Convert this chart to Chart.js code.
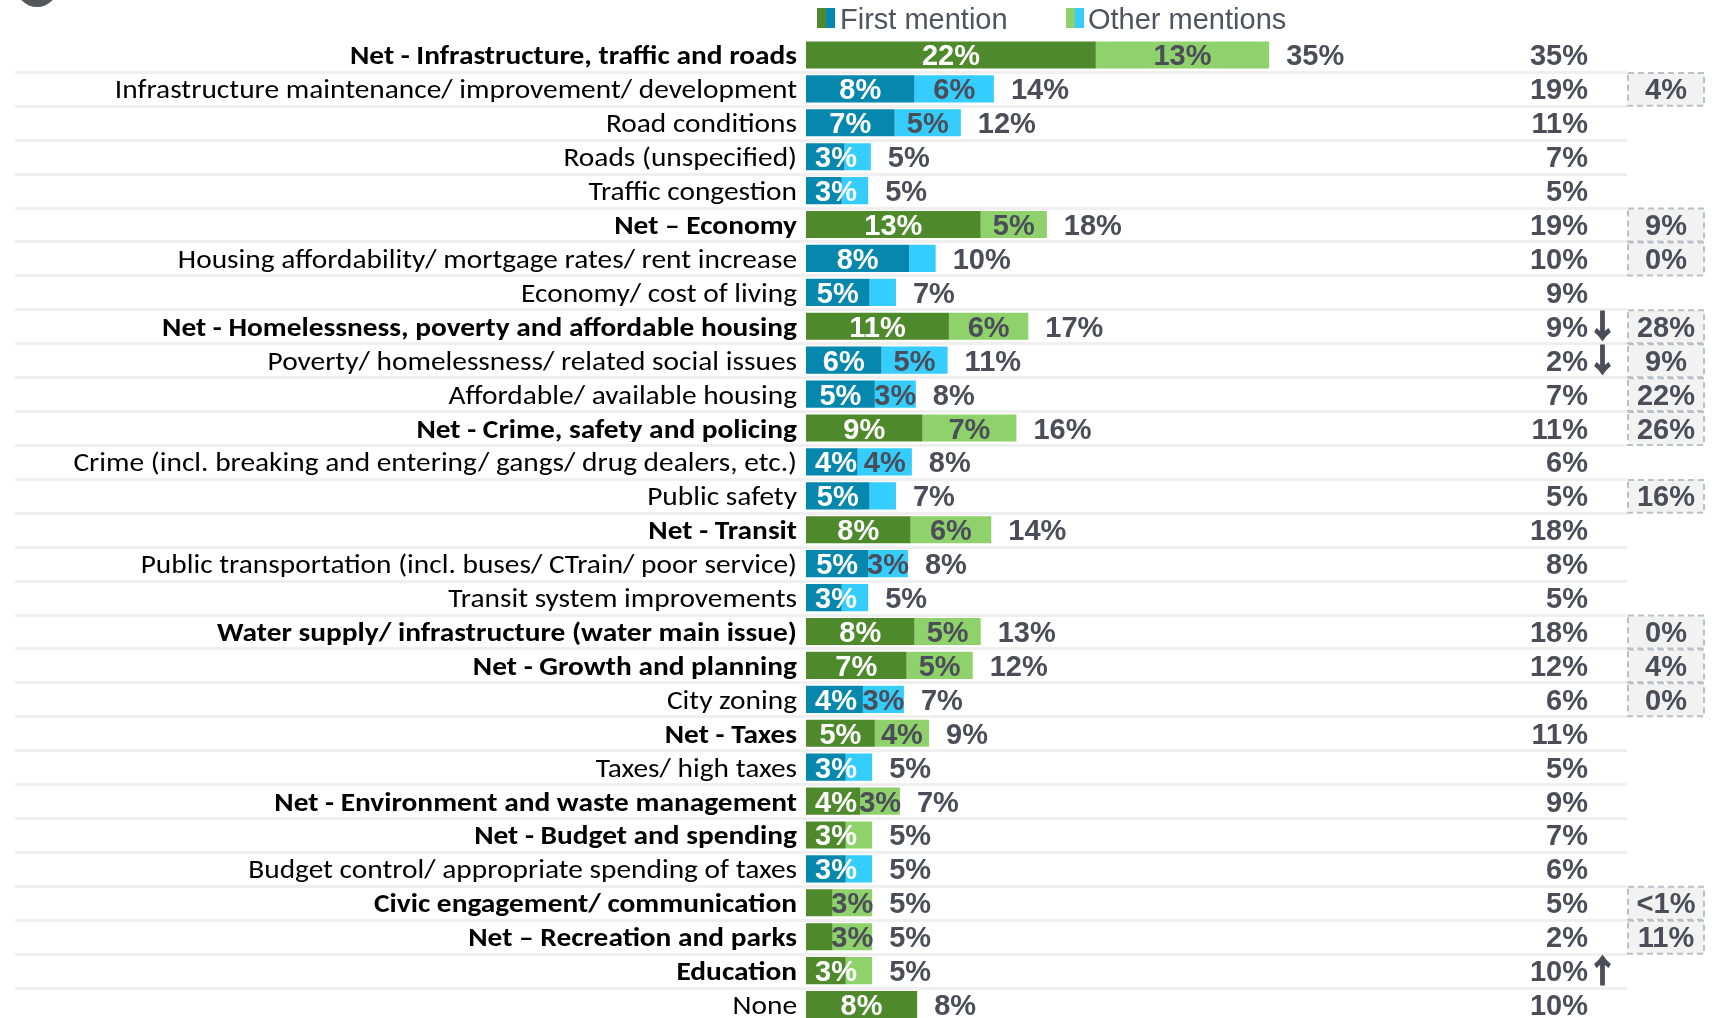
<!DOCTYPE html>
<html>
<head>
<meta charset="utf-8">
<script src="https://cdn.jsdelivr.net/npm/chart.js@4.4.1/dist/chart.umd.min.js"></script>
<style>
html,body{margin:0;padding:0;background:#fff;overflow:hidden;}
#wrap{position:relative;width:1717px;height:1024px;}
</style>
</head>
<body>
<div id="wrap"><canvas id="chart" width="1717" height="1024"></canvas></div>
<script>
// rows, top to bottom
const categories = [
  'Net - Infrastructure, traffic and roads',
  'Infrastructure maintenance/ improvement/ development',
  'Road conditions',
  'Roads (unspecified)',
  'Traffic congestion',
  'Net \u2013 Economy',
  'Housing affordability/ mortgage rates/ rent increase',
  'Economy/ cost of living',
  'Net - Homelessness, poverty and affordable housing',
  'Poverty/ homelessness/ related social issues',
  'Affordable/ available housing',
  'Net - Crime, safety and policing',
  'Crime (incl. breaking and entering/ gangs/ drug dealers, etc.)',
  'Public safety',
  'Net - Transit',
  'Public transportation (incl. buses/ CTrain/ poor service)',
  'Transit system improvements',
  'Water supply/ infrastructure (water main issue)',
  'Net - Growth and planning',
  'City zoning',
  'Net - Taxes',
  'Taxes/ high taxes',
  'Net - Environment and waste management',
  'Net - Budget and spending',
  'Budget control/ appropriate spending of taxes',
  'Civic engagement/ communication',
  'Net \u2013 Recreation and parks',
  'Education',
  'None'
];
// net = bold green, sub = regular blue, plain = regular green
const rowType = ['net','sub','sub','sub','sub','net','sub','sub','net','sub','sub','net','sub','sub','net','sub','sub',
  'net','net','sub','net','sub','net','net','sub','net','net','net','plain'];

const firstVals = [21.9,8.2,6.7,2.9,2.7,13.2,7.8,4.8,10.8,5.7,5.2,8.8,3.9,4.8,7.9,4.7,2.7,
  8.2,7.6,4.3,5.2,3.0,4.1,3.0,3.0,2.0,2.0,3.0,8.4];
const otherVals = [13.1,6.0,5.0,2.0,2.0,5.0,2.0,2.0,6.0,5.0,3.1,7.1,4.1,2.0,6.1,3.0,2.0,
  5.0,5.0,3.1,4.1,2.0,3.0,2.0,2.0,3.0,3.0,2.0,0];

const firstLbl = ['22%','8%','7%','3%','3%','13%','8%','5%','11%','6%','5%','9%','4%','5%','8%','5%','3%',
  '8%','7%','4%','5%','3%','4%','3%','3%','','','3%','8%'];
const otherLbl = ['13%','6%','5%','','','5%','','','6%','5%','3%','7%','4%','','6%','3%','',
  '5%','5%','3%','4%','','3%','','','3%','3%','',''];
const totalLbl = ['35%','14%','12%','5%','5%','18%','10%','7%','17%','11%','8%','16%','8%','7%','14%','8%','5%',
  '13%','12%','7%','9%','5%','7%','5%','5%','5%','5%','5%','8%'];

const prevVals = ['35%','19%','11%','7%','5%','19%','10%','9%','9%','2%','7%','11%','6%','5%','18%','8%','5%',
  '18%','12%','6%','11%','5%','9%','7%','6%','5%','2%','10%','10%'];
const prevTrend = ['','','','','','','','','down','down','','','','','','','',
  '','','','','','','','','','','up',''];
const boxVals = ['','4%','','','','9%','0%','','28%','9%','22%','26%','','16%','','','',
  '0%','4%','0%','','','','','','<1%','11%','',''];

const legendLabels = ['First mention','Other mentions'];

const DARK_GREEN = '#4e8a2b', LIGHT_GREEN = '#8fd16b';
const DARK_BLUE = '#0587ae', LIGHT_BLUE = '#35cdfd';
const TXT = '#4b4e58';
const VAL_FONT = 'bold 29px "Liberation Sans", Arial, sans-serif';
const CAT_FONT = '"Carlito", "Calibri", Lato, sans-serif';
const CAT_STRETCH = 1.13;

const rowDecor = {
  id: 'rowDecor',
  beforeDatasetsDraw(chart){
    const ctx = chart.ctx, y = chart.scales.y;
    const step = y.getPixelForValue(1) - y.getPixelForValue(0);
    ctx.save();
    // separators
    ctx.strokeStyle = '#efefef';
    ctx.lineWidth = 3;
    for(let i=0;i<categories.length-1;i++){
      const yy = Math.round(y.getPixelForValue(i) + step/2) + 0.5;
      ctx.beginPath(); ctx.moveTo(15, yy); ctx.lineTo(1627, yy); ctx.stroke();
    }
    // change boxes
    for(let i=0;i<boxVals.length;i++){
      if(!boxVals[i]) continue;
      const top = y.getPixelForValue(i) - step/2;
      ctx.fillStyle = '#f2f2f2';
      ctx.fillRect(1628, top+1, 76, step-1);
      ctx.setLineDash([6,4]);
      ctx.strokeStyle = '#b9c0c7';
      ctx.lineWidth = 2;
      ctx.strokeRect(1628, top+1, 76, step-1);
      ctx.setLineDash([]);
    }
    ctx.restore();
  },
  afterDatasetsDraw(chart){
    const ctx = chart.ctx, y = chart.scales.y;
    const m0 = chart.getDatasetMeta(0), m1 = chart.getDatasetMeta(1);
    ctx.save();
    for(let i=0;i<categories.length;i++){
      const cy = y.getPixelForValue(i);
      // category label (source text is wider than our fonts, so stretch it)
      ctx.save();
      ctx.font = (rowType[i]==='net' ? 'bold ' : '') + '26px ' + CAT_FONT;
      ctx.fillStyle = '#000';
      ctx.textAlign = 'right';
      ctx.textBaseline = 'alphabetic';
      ctx.translate(797, cy + 9.5);
      ctx.scale(CAT_STRETCH, 1);
      ctx.fillText(categories[i], 0, 0);
      ctx.restore();

      ctx.font = VAL_FONT;
      // first segment label
      const b0 = m0.data[i];
      if(firstLbl[i]){
        const w = ctx.measureText(firstLbl[i]).width;
        let left = (b0.base + b0.x)/2 - w/2;
        left = Math.max(left, b0.base + 9);
        ctx.textAlign = 'left';
        ctx.fillStyle = '#fff';
        ctx.fillText(firstLbl[i], left, cy + 10.5);
      }
      const b1 = m1.data[i];
      if(otherLbl[i]){
        ctx.textAlign = 'center';
        ctx.fillStyle = TXT;
        ctx.fillText(otherLbl[i], (b1.base + b1.x)/2, cy + 10.5);
      }
      // total
      const end = Math.max(b0.x, b1.x);
      ctx.textAlign = 'left';
      ctx.fillStyle = TXT;
      ctx.fillText(totalLbl[i], end + 17, cy + 10.5);
      // previous column
      ctx.textAlign = 'right';
      ctx.fillText(prevVals[i], 1588, cy + 10.5);
      if(prevTrend[i]){
        const arrow = prevTrend[i]==='down' ? '\u2193' : '\u2191';
        ctx.textAlign = 'left';
        ctx.font = 'bold 31px "Noto Sans CJK JP", "DejaVu Sans", sans-serif';
        ctx.strokeStyle = TXT;
        ctx.lineWidth = 1.6;
        ctx.fillText(arrow, 1587, cy + 11);
        ctx.strokeText(arrow, 1587, cy + 11);
        ctx.font = VAL_FONT;
      }
      if(boxVals[i]){
        ctx.textAlign = 'center';
        ctx.fillText(boxVals[i], 1666, cy + 10.5);
      }
    }
    // legend
    ctx.fillStyle = DARK_GREEN; ctx.fillRect(817, 8, 9, 20);
    ctx.fillStyle = DARK_BLUE; ctx.fillRect(826, 8, 9, 20);
    ctx.fillStyle = LIGHT_GREEN; ctx.fillRect(1066, 8, 9, 20);
    ctx.fillStyle = LIGHT_BLUE; ctx.fillRect(1075, 8, 9, 20);
    ctx.font = '29px "Liberation Sans", Arial, sans-serif';
    ctx.fillStyle = '#50535c';
    ctx.textAlign = 'left';
    ctx.fillText(legendLabels[0], 840, 29);
    ctx.fillText(legendLabels[1], 1088, 29);
    // badge cut off at the top
    ctx.fillStyle = '#55575c';
    ctx.beginPath(); ctx.arc(37, -14, 21, 0, Math.PI*2); ctx.fill();
    ctx.restore();
  }
};

const ctx = document.getElementById('chart').getContext('2d');
new Chart(ctx, {
  type: 'bar',
  data: {
    labels: categories,
    datasets: [
      {label: legendLabels[0], data: firstVals,
       backgroundColor: c => rowType[c.dataIndex]==='sub' ? DARK_BLUE : DARK_GREEN,
       barPercentage: 0.8, categoryPercentage: 1},
      {label: legendLabels[1], data: otherVals,
       backgroundColor: c => rowType[c.dataIndex]==='sub' ? LIGHT_BLUE : LIGHT_GREEN,
       barPercentage: 0.8, categoryPercentage: 1}
    ]
  },
  options: {
    indexAxis: 'y',
    responsive: false,
    animation: false,
    layout: {padding: {left: 806, right: 117, top: 38, bottom: 2.5}},
    plugins: {legend: {display: false}, tooltip: {enabled: false}},
    scales: {
      x: {stacked: true, min: 0, max: 60, display: false},
      y: {stacked: true, display: false}
    }
  },
  plugins: [rowDecor]
});
</script>
</body>
</html>
